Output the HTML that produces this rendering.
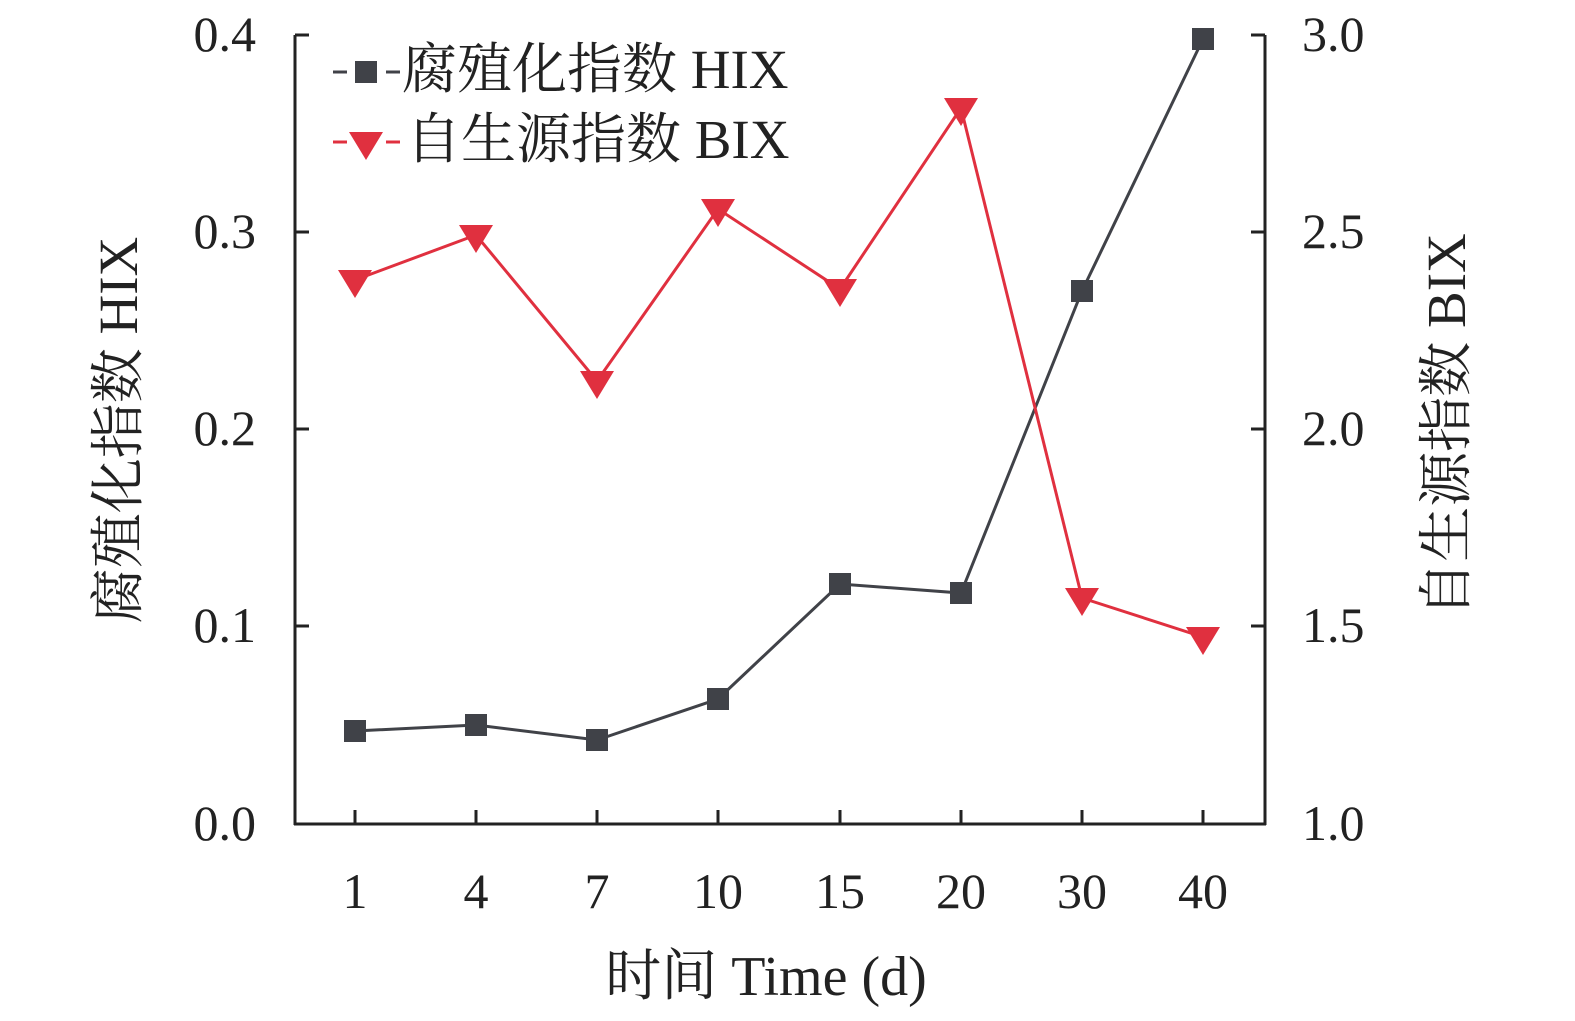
<!DOCTYPE html>
<html><head><meta charset="utf-8"><style>
body{margin:0;background:#fff}
text{font-family:"Liberation Serif","Noto Serif CJK SC",serif;fill:#222}
</style></head><body>
<svg width="1575" height="1016" viewBox="0 0 1575 1016" xmlns="http://www.w3.org/2000/svg">
<g stroke="#222" stroke-width="3" fill="none">
<line x1="295" y1="35" x2="295" y2="825"/>
<line x1="1265" y1="35" x2="1265" y2="825"/>
<line x1="294" y1="824" x2="1266" y2="824"/>
<path d="M295 35h14M295 232h14M295 429h14M295 626h14M1265 35h-14M1265 232h-14M1265 429h-14M1265 626h-14"/>
<path d="M355 824v-14M476 824v-14M597 824v-14M718 824v-14M840 824v-14M961 824v-14M1082 824v-14M1203 824v-14"/>
</g>
<g font-size="50" text-anchor="end">
<text x="256" y="51">0.4</text><text x="256" y="248">0.3</text><text x="256" y="445">0.2</text><text x="256" y="642">0.1</text><text x="256" y="840">0.0</text>
</g>
<g font-size="50" text-anchor="start">
<text x="1302" y="51">3.0</text><text x="1302" y="248">2.5</text><text x="1302" y="445">2.0</text><text x="1302" y="642">1.5</text><text x="1302" y="840">1.0</text>
</g>
<g font-size="50" text-anchor="middle">
<text x="355" y="908">1</text><text x="476" y="908">4</text><text x="597" y="908">7</text><text x="718" y="908">10</text><text x="840" y="908">15</text><text x="961" y="908">20</text><text x="1082" y="908">30</text><text x="1203" y="908">40</text>
<text x="766" y="995" font-size="56">时间 Time (d)</text>
<text transform="translate(137,430) rotate(-90)" font-size="55">腐殖化指数 HIX</text>
<text transform="translate(1465,425) rotate(-90)" font-size="55">自生源指数 BIX</text>
</g>
<polyline points="355,731 476,725 597,740 718,699 840,584 961,593 1082,291 1203,39" fill="none" stroke="#404248" stroke-width="3"/>
<g fill="#404248">
<rect x="344" y="720" width="22" height="22"/><rect x="465" y="714" width="22" height="22"/><rect x="586" y="729" width="22" height="22"/><rect x="707" y="688" width="22" height="22"/><rect x="829" y="573" width="22" height="22"/><rect x="950" y="582" width="22" height="22"/><rect x="1071" y="280" width="22" height="22"/><rect x="1192" y="28" width="22" height="22"/>
</g>
<polyline points="355,280 476,235 597,381 718,209 840,289 961,108 1082,598 1203,637" fill="none" stroke="#e0303f" stroke-width="3"/>
<g fill="#e0303f">
<path d="M338,270h34l-17,28z"/><path d="M459,225h34l-17,28z"/><path d="M580,371h34l-17,28z"/><path d="M701,199h34l-17,28z"/><path d="M823,279h34l-17,28z"/><path d="M944,98h34l-17,28z"/><path d="M1065,588h34l-17,28z"/><path d="M1186,627h34l-17,28z"/>
</g>
<path d="M333 72h14M386 72h14" stroke="#404248" stroke-width="3"/>
<rect x="355" y="61" width="22" height="22" fill="#404248"/>
<text x="402" y="88" font-size="55">腐殖化指数 HIX</text>
<path d="M333 142h14M386 142h14" stroke="#e0303f" stroke-width="3"/>
<path d="M349,132h34l-17,28z" fill="#e0303f"/>
<text x="406" y="158" font-size="55">自生源指数 BIX</text>
</svg>
</body></html>
